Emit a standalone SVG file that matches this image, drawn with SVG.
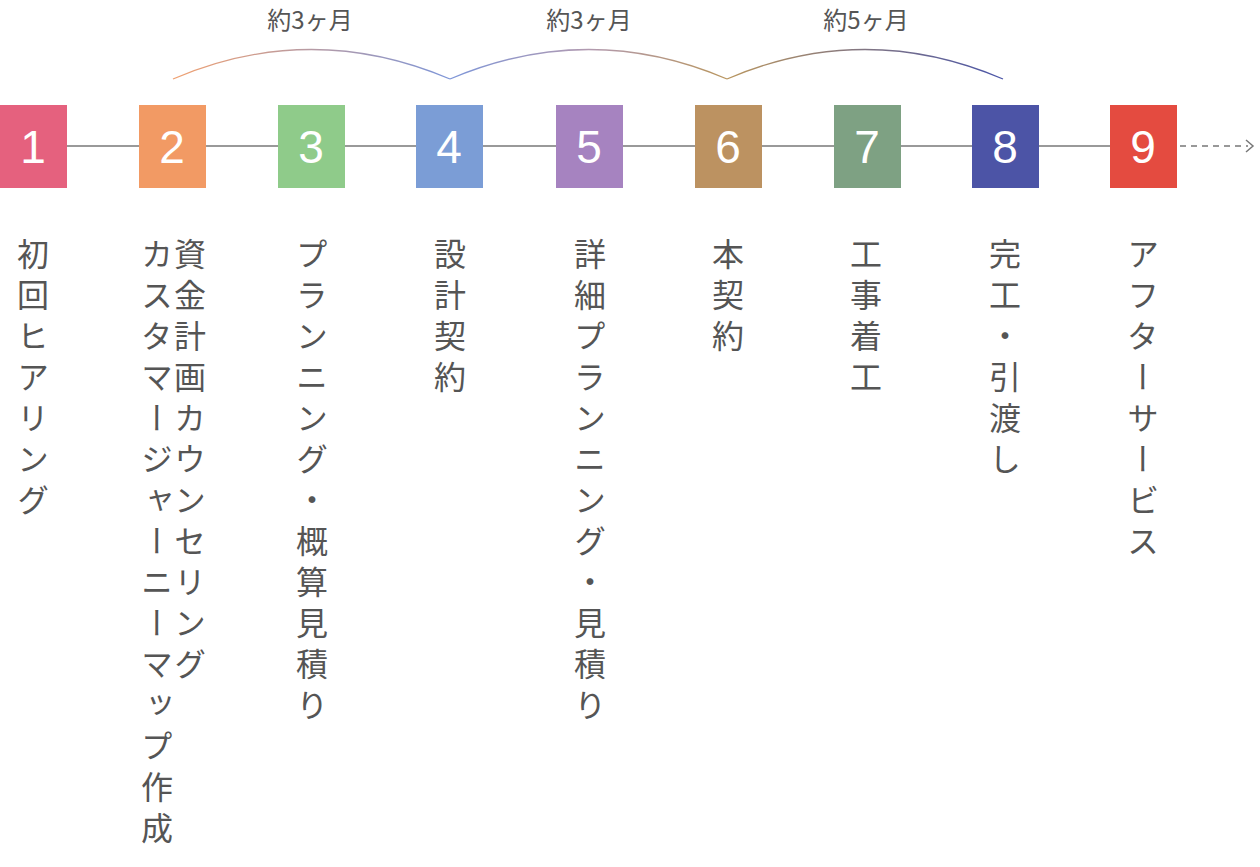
<svg xmlns="http://www.w3.org/2000/svg" width="1260" height="867" viewBox="0 0 1260 867">
<style>
.n{font-family:"Liberation Sans","Noto Sans",sans-serif;font-size:46px;fill:#fff;text-anchor:middle}
.v{font-family:"Noto Sans CJK JP",sans-serif;font-size:32px;fill:#555;writing-mode:vertical-rl;letter-spacing:9px}
.p{font-family:"Noto Sans CJK JP",sans-serif;font-size:24px;fill:#555;text-anchor:middle}
.ln{stroke:#777;stroke-width:1.5;fill:none}
</style>
<defs>
<linearGradient id="g1" x1="173" y1="0" x2="450" y2="0" gradientUnits="userSpaceOnUse"><stop offset="0" stop-color="#f0a070"/><stop offset="1" stop-color="#7d95d8"/></linearGradient>
<linearGradient id="g2" x1="450" y1="0" x2="727" y2="0" gradientUnits="userSpaceOnUse"><stop offset="0" stop-color="#7d95d8"/><stop offset="0.5" stop-color="#b29ab0"/><stop offset="1" stop-color="#b8955e"/></linearGradient>
<linearGradient id="g3" x1="727" y1="0" x2="1003" y2="0" gradientUnits="userSpaceOnUse"><stop offset="0" stop-color="#b8955e"/><stop offset="1" stop-color="#4a55a8"/></linearGradient>
</defs>
<g id="connectors">
<line class="ln" x1="30" y1="146" x2="1150" y2="146"/>
<line class="ln" x1="1180" y1="146" x2="1248" y2="146" stroke-dasharray="6,5"/>
<polyline class="ln" points="1246,140 1253,146 1246,152"/>
<path d="M173,79 Q311,20 450,79" fill="none" stroke="url(#g1)" stroke-width="1.3"/>
<path d="M450,79 Q589,20 727,79" fill="none" stroke="url(#g2)" stroke-width="1.3"/>
<path d="M727,79 Q865,20 1003,79" fill="none" stroke="url(#g3)" stroke-width="1.3"/>
</g>
<g id="periods">
<text class="p" x="310" y="29">約3ヶ月</text>
<text class="p" x="589" y="29">約3ヶ月</text>
<text class="p" x="866" y="29">約5ヶ月</text>
</g>
<g id="s1"><rect x="0" y="105" width="67" height="83" fill="#e5617e"/><text class="n" x="33" y="163">1</text><text class="v" x="33" y="238">初回ヒアリング</text></g>
<g id="s2"><rect x="139" y="105" width="67" height="83" fill="#f29a64"/><text class="n" x="172" y="163">2</text><text class="v" x="190" y="238">資金計画カウンセリング</text><text class="v" x="157" y="238">カスタマージャーニーマップ作成</text></g>
<g id="s3"><rect x="278" y="105" width="67" height="83" fill="#8fcb8a"/><text class="n" x="311" y="163">3</text><text class="v" x="312" y="238">プランニング・概算見積り</text></g>
<g id="s4"><rect x="416" y="105" width="67" height="83" fill="#7b9dd6"/><text class="n" x="449" y="163">4</text><text class="v" x="450" y="238">設計契約</text></g>
<g id="s5"><rect x="556" y="105" width="67" height="83" fill="#a683c0"/><text class="n" x="589" y="163">5</text><text class="v" x="590" y="238">詳細プランニング・見積り</text></g>
<g id="s6"><rect x="695" y="105" width="67" height="83" fill="#bc9261"/><text class="n" x="728" y="163">6</text><text class="v" x="728" y="238">本契約</text></g>
<g id="s7"><rect x="834" y="105" width="67" height="83" fill="#7ea183"/><text class="n" x="867" y="163">7</text><text class="v" x="866" y="238">工事着工</text></g>
<g id="s8"><rect x="972" y="105" width="67" height="83" fill="#4c54a6"/><text class="n" x="1005" y="163">8</text><text class="v" x="1005" y="238">完工・引渡し</text></g>
<g id="s9"><rect x="1110" y="105" width="67" height="83" fill="#e44b40"/><text class="n" x="1143" y="163">9</text><text class="v" x="1143" y="238">アフターサービス</text></g>
</svg>
